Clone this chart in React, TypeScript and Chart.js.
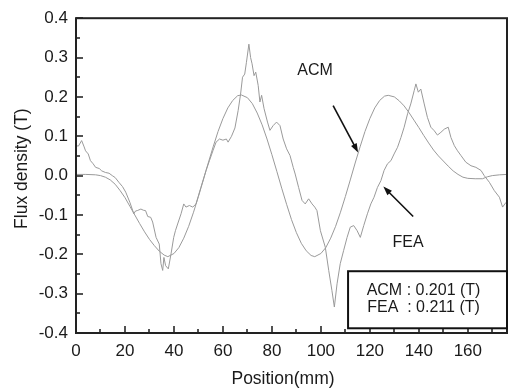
import React, { useEffect, useRef } from 'react';
import { Chart, registerables } from 'chart.js';

Chart.register(...registerables);

// ---------- data ----------
const acmPos = [0, 4, 8, 10, 12, 14, 16, 18, 20, 22, 24, 26, 28, 30, 32, 34, 36, 37.5, 40, 42, 44, 46, 48, 50, 52, 54, 56, 58, 60, 62, 64, 66, 67.5, 70, 72, 74, 76, 78, 80, 82, 84, 86, 88, 90, 92, 94, 96, 97.5, 100, 102, 104, 106, 108, 110, 112, 114, 116, 118, 120, 122, 124, 126, 127.5, 130, 132, 134, 136, 138, 140, 142, 144, 146, 148, 150, 152, 154, 156, 158, 160, 163, 166, 168, 170, 173, 176];
const acmFlux = [0.003, 0.003, 0.002, 0, -0.004, -0.011, -0.022, -0.038, -0.056, -0.078, -0.100, -0.122, -0.143, -0.162, -0.178, -0.192, -0.202, -0.206, -0.198, -0.183, -0.159, -0.129, -0.093, -0.053, -0.011, 0.032, 0.073, 0.112, 0.145, 0.172, 0.191, 0.203, 0.205, 0.198, 0.183, 0.159, 0.129, 0.093, 0.053, 0.011, -0.032, -0.073, -0.112, -0.145, -0.172, -0.191, -0.203, -0.206, -0.198, -0.183, -0.159, -0.129, -0.093, -0.053, -0.011, 0.032, 0.073, 0.112, 0.145, 0.172, 0.191, 0.202, 0.204, 0.200, 0.190, 0.177, 0.160, 0.141, 0.122, 0.102, 0.083, 0.065, 0.050, 0.037, 0.024, 0.012, 0.003, -0.004, -0.007, -0.008, -0.008, -0.003, 0.0, 0.002, 0.003];

const feaPoints: [number, number][] = [
  [0, 0.076], [1, 0.075], [2.3, 0.089], [3.2, 0.075], [3.9, 0.063], [5, 0.055], [5.9, 0.038], [7, 0.030],
  [8, 0.021], [9.5, 0.018], [10.5, 0.012], [12, 0.008], [13.5, 0.006], [14.8, 0.0], [16, -0.005], [17.5, -0.017],
  [19, -0.028], [20.3, -0.042], [22, -0.068], [23.6, -0.097], [24.3, -0.090], [25, -0.089], [26.5, -0.085],
  [27.5, -0.088], [28.4, -0.089], [29.3, -0.104], [30.5, -0.106], [31.3, -0.118], [32.7, -0.157], [34, -0.174],
  [34.7, -0.224], [35.4, -0.241], [35.9, -0.208], [36.6, -0.229], [37.7, -0.237], [38.8, -0.199], [39.9, -0.157],
  [40.6, -0.140], [41.5, -0.123], [42.9, -0.097], [44, -0.072], [44.9, -0.080], [46.3, -0.076], [47.7, -0.080],
  [49, -0.072], [51, -0.030], [53.1, 0.013], [54.5, 0.038], [55.9, 0.063], [57.2, 0.085], [58.6, 0.093],
  [60, 0.090], [61.4, 0.093], [62.1, 0.085], [63.5, 0.100], [64.9, 0.121], [66.2, 0.165], [67.2, 0.207],
  [68, 0.250], [68.9, 0.258], [69.6, 0.288], [70.6, 0.334], [71.3, 0.300], [71.9, 0.284], [72.7, 0.254],
  [73.4, 0.263], [74.4, 0.229], [75.1, 0.187], [75.8, 0.204], [76.8, 0.170], [78.2, 0.136], [79.2, 0.115],
  [80.5, 0.127], [81.9, 0.136], [83.3, 0.127], [84.6, 0.093], [86, 0.068], [87.4, 0.051], [88.7, 0.021],
  [89.5, 0.004], [90.9, -0.030], [92.3, -0.063], [93.6, -0.072], [95, -0.059], [96.4, -0.072], [97.5, -0.080],
  [98.4, -0.089], [99.8, -0.140], [101.8, -0.182], [103.2, -0.241], [104.5, -0.292], [105.5, -0.334],
  [106.6, -0.275], [107.9, -0.224], [109.3, -0.190], [110.7, -0.157], [112, -0.131], [113.4, -0.127],
  [114.8, -0.140], [116.1, -0.157], [117.5, -0.127], [119, -0.097], [120.4, -0.072], [121.7, -0.055],
  [123.1, -0.030], [124.5, -0.013], [125.8, 0.013], [127.2, 0.030], [128.6, 0.038], [129.9, 0.055],
  [131.3, 0.072], [132.7, 0.097], [134, 0.123], [135.4, 0.157], [136.7, 0.182], [138.1, 0.216], [138.8, 0.233],
  [139.8, 0.212], [140.8, 0.220], [142.2, 0.182], [143.5, 0.148], [144.9, 0.123], [146.3, 0.114], [147.6, 0.103],
  [149, 0.110], [150.4, 0.118], [152, 0.123], [153.1, 0.097], [154.5, 0.076], [155.8, 0.063], [157.2, 0.051],
  [159.2, 0.034], [161.3, 0.025], [163.3, 0.021], [165.4, 0.013], [166.7, 0.0], [168.8, -0.017], [170.8, -0.038],
  [172.9, -0.055], [174.2, -0.080], [175.6, -0.068],
];

const xTicks = [0, 20, 40, 60, 80, 100, 120, 140, 160];
const xMinorTicks = [10, 30, 50, 70, 90, 110, 130, 150, 170];
const yTicks = [-0.4, -0.3, -0.2, -0.1, 0.0, 0.1, 0.2, 0.3, 0.4];
const yMinorTicks = [-0.35, -0.25, -0.15, -0.05, 0.05, 0.15, 0.25, 0.35];
const xTitle = 'Position(mm)';
const yTitle = 'Flux density (T)';
const acmLabel = 'ACM';
const feaLabel = 'FEA';
const summaryLines = ['ACM : 0.201 (T)', 'FEA  : 0.211 (T)'];

const FONT = '"Liberation Sans", Arial, Helvetica, sans-serif';

function arrow(ctx: CanvasRenderingContext2D, x1: number, y1: number, x2: number, y2: number) {
  const ang = Math.atan2(y2 - y1, x2 - x1);
  const head = 9;
  const half = 3.2;
  ctx.beginPath();
  ctx.moveTo(x1, y1);
  ctx.lineTo(x2 - Math.cos(ang) * head * 0.8, y2 - Math.sin(ang) * head * 0.8);
  ctx.stroke();
  ctx.beginPath();
  ctx.moveTo(x2, y2);
  ctx.lineTo(x2 - Math.cos(ang) * head - Math.sin(ang) * half, y2 - Math.sin(ang) * head + Math.cos(ang) * half);
  ctx.lineTo(x2 - Math.cos(ang) * head + Math.sin(ang) * half, y2 - Math.sin(ang) * head - Math.cos(ang) * half);
  ctx.closePath();
  ctx.fill();
}

const decorPlugin = {
  id: 'decor',
  afterDatasetsDraw(chart: any) {
    const { ctx, chartArea: a, scales } = chart;
    const x = scales.x;
    const y = scales.y;
    ctx.save();
    ctx.strokeStyle = '#1a1a1a';
    ctx.fillStyle = '#1a1a1a';
    // inner ticks
    ctx.lineWidth = 1.5;
    ctx.beginPath();
    xTicks.forEach((v) => {
      const px = Math.round(x.getPixelForValue(v));
      ctx.moveTo(px, a.bottom);
      ctx.lineTo(px, a.bottom - 7);
    });
    xMinorTicks.forEach((v) => {
      const px = Math.round(x.getPixelForValue(v));
      ctx.moveTo(px, a.bottom);
      ctx.lineTo(px, a.bottom - 4);
    });
    yTicks.forEach((v) => {
      const py = Math.round(y.getPixelForValue(v));
      ctx.moveTo(a.left, py);
      ctx.lineTo(a.left + 7, py);
    });
    yMinorTicks.forEach((v) => {
      const py = Math.round(y.getPixelForValue(v));
      ctx.moveTo(a.left, py);
      ctx.lineTo(a.left + 4, py);
    });
    ctx.stroke();

    // frame
    ctx.lineWidth = 2;
    ctx.strokeStyle = '#222';
    ctx.strokeRect(a.left, a.top, a.right - a.left, a.bottom - a.top);

    // summary box
    const bx1 = x.getPixelForValue(111.1);
    const by1 = y.getPixelForValue(-0.243);
    const bx2 = a.right;
    const by2 = y.getPixelForValue(-0.388);
    ctx.fillStyle = '#fff';
    ctx.fillRect(bx1, by1, bx2 - bx1, by2 - by1);
    ctx.strokeStyle = '#111';
    ctx.lineWidth = 2;
    ctx.strokeRect(bx1, by1, bx2 - bx1, by2 - by1);

    ctx.fillStyle = '#1a1a1a';
    ctx.font = `16px ${FONT}`;
    ctx.textAlign = 'center';
    ctx.textBaseline = 'middle';
    const cx = (bx1 + bx2) / 2 - 4;
    ctx.fillText(summaryLines[0], cx, y.getPixelForValue(-0.291));
    ctx.fillText(summaryLines[1], cx, y.getPixelForValue(-0.336));

    // labels + arrows
    ctx.fillText(acmLabel, x.getPixelForValue(97.6), y.getPixelForValue(0.267));
    ctx.fillText(feaLabel, x.getPixelForValue(135.6), y.getPixelForValue(-0.170));
    ctx.strokeStyle = '#111';
    ctx.fillStyle = '#111';
    ctx.lineWidth = 1.6;
    arrow(ctx, x.getPixelForValue(105), y.getPixelForValue(0.178), x.getPixelForValue(115.2), y.getPixelForValue(0.059));
    arrow(ctx, x.getPixelForValue(137.7), y.getPixelForValue(-0.104), x.getPixelForValue(125.5), y.getPixelForValue(-0.028));

    // axis titles
    ctx.fillStyle = '#1a1a1a';
    ctx.font = `17.5px ${FONT}`;
    ctx.textAlign = 'center';
    ctx.textBaseline = 'middle';
    ctx.fillText(xTitle, 283, 379);
    ctx.save();
    ctx.translate(22, (a.top + a.bottom) / 2 - 7);
    ctx.rotate(-Math.PI / 2);
    ctx.fillText(yTitle, 0, 0);
    ctx.restore();
    ctx.restore();
  },
};

export default function App() {
  const ref = useRef<HTMLCanvasElement | null>(null);
  useEffect(() => {
    if (!ref.current) return;
    const chart = new Chart(ref.current, {
      type: 'line',
      data: {
        datasets: [
          {
            label: 'ACM',
            data: acmPos.map((p, i) => ({ x: p, y: acmFlux[i] })),
            borderColor: '#9a9a9a',
            borderWidth: 1,
            pointRadius: 0,
            tension: 0,
          },
          {
            label: 'FEA',
            data: feaPoints.map(([p, v]) => ({ x: p, y: v })),
            borderColor: '#9a9a9a',
            borderWidth: 1,
            pointRadius: 0,
            tension: 0,
          },
        ],
      },
      options: {
        animation: false,
        responsive: false,
        devicePixelRatio: 1,
        layout: { padding: { left: 0, top: 17, right: 1, bottom: 0 } },
        plugins: { legend: { display: false }, tooltip: { enabled: false } },
        scales: {
          x: {
            type: 'linear',
            min: 0,
            max: 176,
            grid: { display: false, drawTicks: false },
            border: { display: false },
            afterFit: (s: any) => { s.height = 59; },
            afterBuildTicks: (s: any) => { s.ticks = xTicks.map((v) => ({ value: v })); },
            ticks: {
              color: '#1a1a1a',
              font: { family: FONT, size: 17 },
              padding: 8,
              maxRotation: 0,
              callback: (v: any) => String(v),
            },
          },
          y: {
            type: 'linear',
            min: -0.4,
            max: 0.4,
            grid: { display: false, drawTicks: false },
            border: { display: false },
            afterFit: (s: any) => { s.width = 76; },
            afterBuildTicks: (s: any) => { s.ticks = yTicks.map((v) => ({ value: v })); },
            ticks: {
              color: '#1a1a1a',
              font: { family: FONT, size: 17 },
              padding: 8,
              callback: (v: any) => Number(v).toFixed(1),
            },
          },
        },
      },
      plugins: [decorPlugin],
    } as any);
    return () => chart.destroy();
  }, []);
  return (
    <div style={{ position: 'absolute', left: 0, top: 0, width: 508, height: 392, background: '#fff' }}>
      <canvas ref={ref} width={508} height={392} style={{ display: 'block', width: 508, height: 392 }} />
    </div>
  );
}
